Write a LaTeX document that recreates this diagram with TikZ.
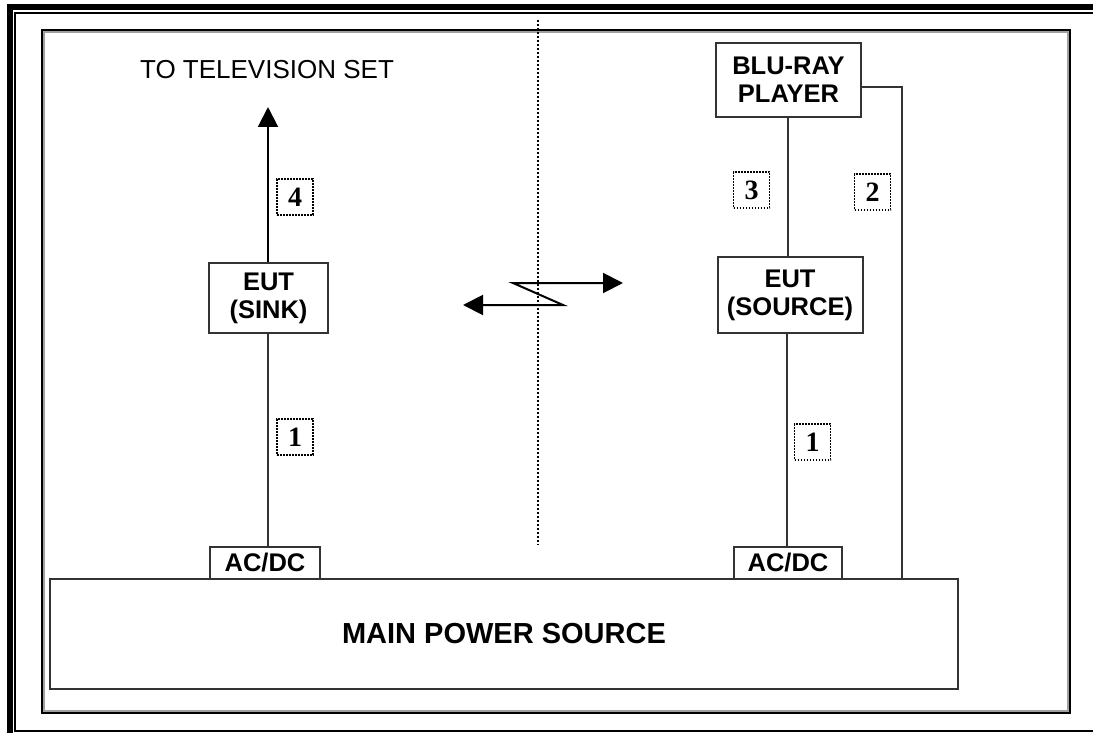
\documentclass[tikz,border=0pt]{standalone}
\usepackage{fontspec}
\setmainfont{Liberation Sans}
\newfontfamily\digitfont{Liberation Serif}
\usetikzlibrary{positioning,arrows.meta}
\definecolor{Wire}{HTML}{333333}
\definecolor{Shade}{HTML}{A0A0A0}

\begin{document}
\begin{tikzpicture}[x=1pt,y=-1pt,
    box/.style={draw=Wire,line width=2pt,fill=white,align=center,inner sep=0pt,
                font=\fontsize{25.5}{28}\selectfont\bfseries},
    tag/.style={draw=black,dash pattern=on 1.6pt off 1.4pt,line width=1.6pt,minimum width=36pt,
                minimum height=36pt,inner sep=0pt,font=\fontsize{28}{28}\selectfont\digitfont\bfseries},
    wire/.style={Wire,line width=2pt},
    arr/.style={{Triangle[length=20pt,width=20pt]}-,black,line width=2pt}
  ]
    \useasboundingbox (0,0) rectangle (1093,733);
    % page frame
    \draw[line width=6pt] (10,733) -- (10,7) -- (1093,7);
    \draw[line width=2pt] (1093,13) -- (15,13) -- (15,730.5) -- (1093,730.5);
    \draw[Shade,line width=2pt] (44,32) rectangle (1068,711);
    \draw[line width=2pt] (42,30) rectangle (1070,713);
    % divider
    \draw[black,line width=2pt,dash pattern=on 2pt off 2pt] (538,20) -- (538,545);

    \node[box,minimum width=908pt,minimum height=110pt,font=\fontsize{29}{30}\selectfont\bfseries]
      (main) at (504,634) {MAIN POWER SOURCE};
    \node[box,minimum width=110pt,minimum height=32pt] (acdcL) at (265,563) {AC/DC};
    \node[box,minimum width=108pt,minimum height=32pt] (acdcR) at (788,563) {AC/DC};
    \node[box,minimum width=119pt,minimum height=70pt] (sink) at (268.5,298) {EUT\\(SINK)};
    \node[box,minimum width=145pt,minimum height=76pt] (source) at (790,295) {EUT\\(SOURCE)};
    \node[box,minimum width=145pt,minimum height=74pt] (bluray) at (788.5,80) {BLU-RAY\\PLAYER};
    \node[font=\fontsize{26}{26}\selectfont] (tv) at (267,70) {TO TELEVISION SET};
    \coordinate (tvtip) at (268,107);
    \coordinate (turn) at (902,87);

    \draw[wire] (sink.south -| 268,0) -- (acdcL.north -| 268,0);
    \draw[wire] (source.south -| 787,0) -- (acdcR.north -| 787,0);
    \draw[wire] (bluray.south -| 788,0) -- (source.north -| 788,0);
    \draw[wire] (bluray.east |- turn) -- (turn) -- (turn |- main.north);
    \draw[arr] (tvtip) -- (sink.north -| tvtip);

    % wireless link
    \coordinate (rtip) at (623,283);
    \coordinate (ltip) at (463,305);
    \coordinate (za) at (513,283);
    \coordinate (zb) at (563,305);
    \draw[black,line width=2pt,{Triangle[length=20pt,width=20pt]}-{Triangle[length=20pt,width=20pt]}]
      (ltip) -- (zb) -- (za) -- (rtip);

    \node[tag] (c4) at (295,197) {4};
    \node[tag] (c1a) at (295,437) {1};
    \node[tag] (c3) at (751.5,190) {3};
    \node[tag] (c2) at (872.5,192) {2};
    \node[tag] (c1b) at (812.5,442) {1};
\end{tikzpicture}
\end{document}
